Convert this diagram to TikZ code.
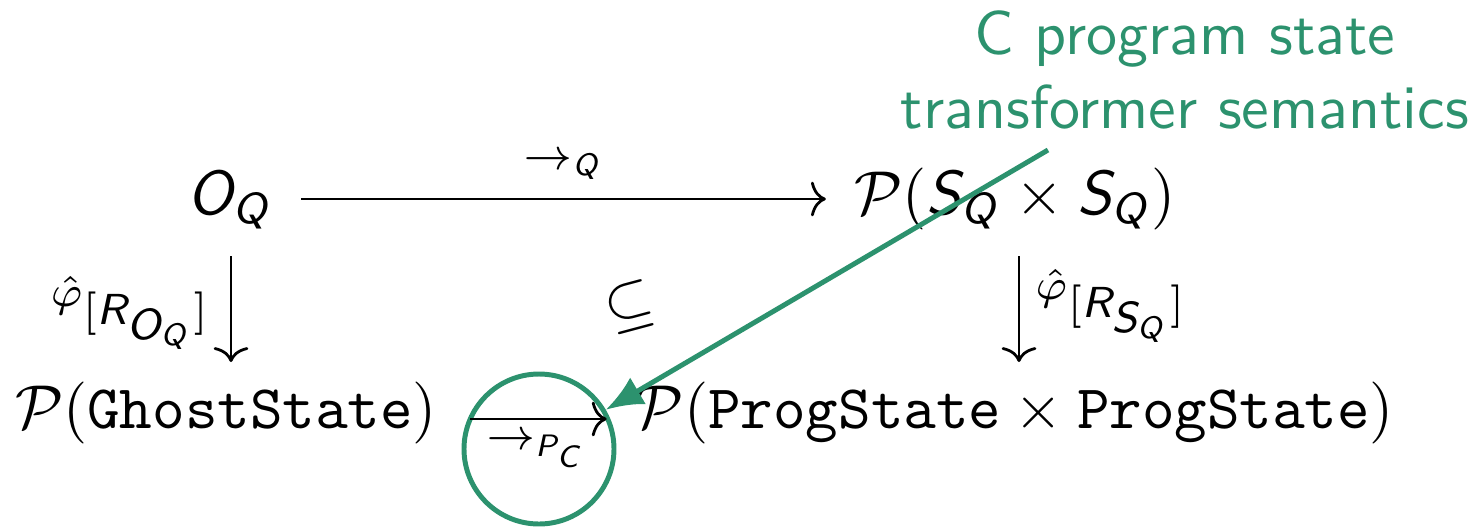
\documentclass[tikz,border=0pt]{standalone}
\usepackage{amsmath,amssymb}
\usetikzlibrary{arrows.meta,calc}
\DeclareMathAlphabet{\mathsfit}{OT1}{cmss}{m}{sl}
\definecolor{grn}{RGB}{44,146,110}
\begin{document}
\begin{tikzpicture}[x=0.16129pt,y=-0.16129pt,
  font=\sffamily,
  obj/.style={inner sep=0pt,anchor=base},
  lbl/.style={inner sep=0pt},
  map/.style={line width=0.45pt,-{Computer Modern Rightarrow[length=2.4pt,width=5.6pt]}},
  hl/.style={draw=grn,line width=0.8pt}]
\useasboundingbox (0,0) rectangle (1476,526);
\node[obj] (OQ) at (230,214) {$\mathsfit{O}_{\mathsfit{Q}}$};
\node[obj] (PS) at (1015,214) {$\mathcal{P}(\mathsfit{S}_{\mathsfit{Q}}\times \mathsfit{S}_{\mathsfit{Q}})$};
\node[obj] (GS) at (226,428) {$\mathcal{P}(\mathtt{GhostState})$};
\node[obj] (PP) at (1015,428) {$\mathcal{P}(\mathtt{ProgState}\times\mathtt{ProgState})$};
\node[lbl] (lq) at (563,166) {$\scriptstyle\to_{\mathsfit{Q}}$};
\node[lbl,anchor=east] (lo) at (212,313) {$\scriptstyle\hat{\varphi}_{\scriptstyle[\mathsfit{R}_{\scriptstyle\mathsfit{O}_{\mathsfit{Q}}}]}$};
\node[lbl,anchor=west] (ls) at (1034,306) {$\scriptstyle\hat{\varphi}_{\scriptstyle[\mathsfit{R}_{\scriptstyle\mathsfit{S}_{\mathsfit{Q}}}]}$};
\node[lbl] (lp) at (537,450) {$\scriptstyle\to_{\mathsfit{P}_{\mathsfit{C}}}$};
\node[lbl,rotate=15] (sub) at (630,307) {$\subseteq$};
\node[hl,circle,minimum size=150*0.16129pt,inner sep=0pt] (circ) at (539,449) {};
\node[text=grn,align=center,inner sep=0pt] (note) at (1185,70) {C program state\\transformer semantics};
\coordinate (gs) at (1048,150);
\draw[map] ($(OQ.base east)+(27,-15)$) -- ($(PS.base west)+(-27,-15)$);
\draw[map] ($(OQ.base)+(1,42)$) -- ($(OQ.base)+(1,148)$);
\draw[map] ($(PS.base)+(4,42)$) -- ($(PS.base)+(4,148)$);
\draw[map] ($(GS.base east)+(32,-9)$) -- ($(PP.base west)+(-28,-9)$);
\draw[hl,-{Latex[length=6pt,width=5pt]}] (gs) -- (circ);
\end{tikzpicture}
\end{document}
